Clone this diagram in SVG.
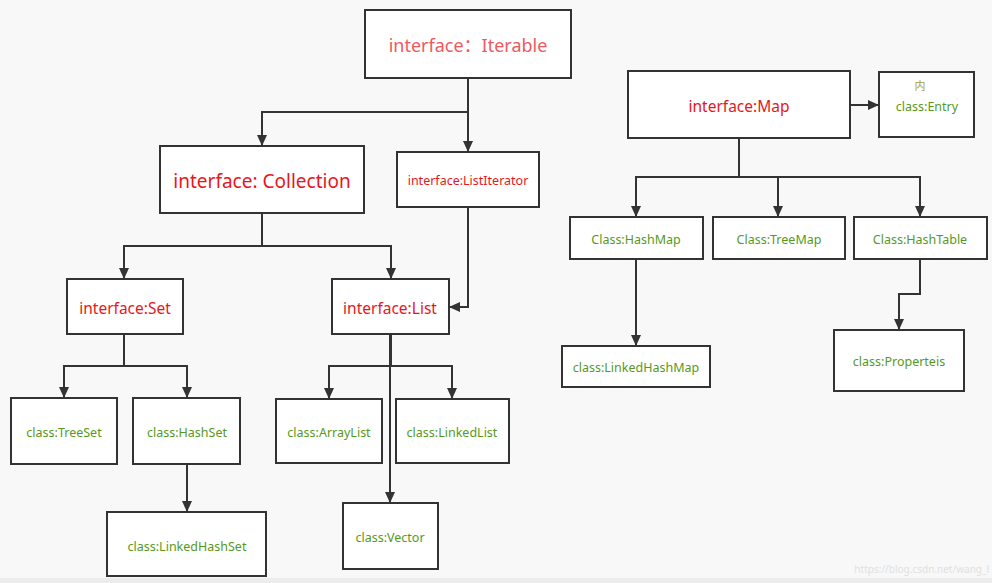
<svg xmlns="http://www.w3.org/2000/svg" width="992" height="583" viewBox="0 0 992 583">
<defs>
<marker id="ah" markerUnits="userSpaceOnUse" markerWidth="12" markerHeight="10" refX="11" refY="5" orient="auto">
<path d="M0,0 L11,5 L0,10 Z" fill="#333"/>
</marker>
<style>
.box{fill:#fff;stroke:#333;stroke-width:2}
.ln{fill:none;stroke:#333;stroke-width:2}
.ar{marker-end:url(#ah)}
text{font-family:"Noto Sans","Noto Sans CJK SC",sans-serif;text-anchor:middle;dominant-baseline:central}
.red{fill:#e8161c}
.grn{fill:#56991a;font-size:12.5px}
</style>
</defs>
<rect x="0" y="0" width="992" height="583" fill="#f8f8f8"/>
<rect x="0" y="578" width="992" height="5" fill="#ececec"/>

<g id="connectors">
<path class="ln" d="M468,78 V112"/>
<path class="ln ar" d="M468,112 H262 V146"/>
<path class="ln ar" d="M468,112 V152"/>
<path class="ln" d="M262,213 V246"/>
<path class="ln ar" d="M262,246 H124 V279"/>
<path class="ln ar" d="M262,246 H391 V279"/>
<path class="ln ar" d="M468,207 V307 H449"/>
<path class="ln" d="M124,334 V366"/>
<path class="ln ar" d="M124,366 H64 V398"/>
<path class="ln ar" d="M124,366 H187 V398"/>
<path class="ln ar" d="M187,464 V512"/>
<path class="ln ar" d="M391,334 V366 H329 V399"/>
<path class="ln ar" d="M391,366 H452 V399"/>
<path class="ln ar" d="M390,334 V503"/>
<path class="ln ar" d="M850,105 H879"/>
<path class="ln" d="M739,138 V177"/>
<path class="ln ar" d="M739,177 H636 V217"/>
<path class="ln ar" d="M739,177 H778 V217"/>
<path class="ln ar" d="M739,177 H920 V217"/>
<path class="ln ar" d="M636,259 V346"/>
<path class="ln ar" d="M920,259 V294 H899 V330"/>
</g>

<g id="iterable"><rect class="box" x="365" y="10" width="206" height="68"/><text x="468" y="45" fill="#f0585f" font-size="18">interface：Iterable</text></g>
<g id="collection"><rect class="box" x="160" y="146" width="204" height="67"/><text class="red" x="262" y="181" font-size="19">interface: Collection</text></g>
<g id="listiterator"><rect class="box" x="397" y="152" width="142" height="55"/><text class="red" x="468" y="180" font-size="12.5">interface:ListIterator</text></g>
<g id="set"><rect class="box" x="67" y="279" width="116" height="55"/><text class="red" x="125" y="308" font-size="15.5">interface:Set</text></g>
<g id="list"><rect class="box" x="332" y="279" width="117" height="55"/><text class="red" x="390" y="308" font-size="15.5">interface:List</text></g>
<g id="treeset"><rect class="box" x="11" y="398" width="106" height="66"/><text class="grn" x="64" y="432">class:TreeSet</text></g>
<g id="hashset"><rect class="box" x="133" y="398" width="107" height="66"/><text class="grn" x="187" y="432">class:HashSet</text></g>
<g id="linkedhashset"><rect class="box" x="107" y="512" width="159" height="64"/><text class="grn" x="187" y="546">class:LinkedHashSet</text></g>
<g id="arraylist"><rect class="box" x="276" y="399" width="106" height="64"/><text class="grn" x="329" y="432">class:ArrayList</text></g>
<g id="linkedlist"><rect class="box" x="396" y="399" width="113" height="64"/><text class="grn" x="452" y="432">class:LinkedList</text></g>
<g id="vector"><rect class="box" x="343" y="503" width="95" height="66"/><text class="grn" x="390" y="537">class:Vector</text></g>
<g id="map"><rect class="box" x="628" y="71" width="222" height="67"/><text class="red" x="739" y="106" font-size="15.5">interface:Map</text></g>
<g id="entry"><rect class="box" x="879" y="72" width="95" height="65"/><text x="920" y="85" fill="#a8a030" font-size="11">内</text><text class="grn" x="927" y="106">class:Entry</text></g>
<g id="hashmap"><rect class="box" x="570" y="217" width="133" height="42"/><text class="grn" x="636" y="239">Class:HashMap</text></g>
<g id="treemap"><rect class="box" x="713" y="217" width="132" height="42"/><text class="grn" x="779" y="239">Class:TreeMap</text></g>
<g id="hashtable"><rect class="box" x="854" y="217" width="133" height="42"/><text class="grn" x="920" y="239">Class:HashTable</text></g>
<g id="linkedhashmap"><rect class="box" x="562" y="346" width="148" height="41"/><text class="grn" x="636" y="367">class:LinkedHashMap</text></g>
<g id="properteis"><rect class="box" x="834" y="330" width="130" height="61"/><text class="grn" x="899" y="361">class:Properteis</text></g>
<text x="989" y="569" fill="#e0e0e0" font-size="10" style="text-anchor:end">https://blog.csdn.net/wang_l</text>
</svg>
